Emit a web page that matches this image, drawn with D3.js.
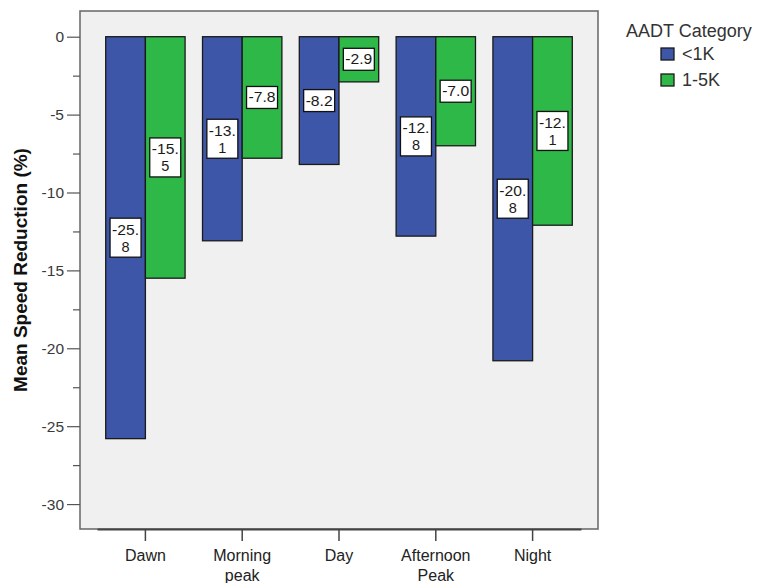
<!DOCTYPE html>
<html>
<head>
<meta charset="utf-8">
<script src="https://cdn.jsdelivr.net/npm/d3@7"></script>
<style>
    body { margin: 0; background: #fff; }
    text { font-family: "Liberation Sans", Arial, sans-serif; }
</style>
</head>
<body>
<svg id="canvas" width="760" height="583"></svg>
<script>
// data
const periods = [['Dawn'], ['Morning', 'peak'], ['Day'], ['Afternoon', 'Peak'], ['Night']];
const series = ['<1K', '1-5K'];
const lowAADT = [-25.8, -13.1, -8.2, -12.8, -20.8];
const midAADT = [-15.5, -7.8, -2.9, -7.0, -12.1];
const yTicks = [0, -5, -10, -15, -20, -25, -30];
const colors = ['#3d56a8', '#2eb848'];

const svg = d3.select('#canvas');

const frame = {left: 80, top: 11, right: 598, bottom: 529};

const y = d3.scaleLinear()
    .domain([1.65, -31.6])
    .range([frame.top, frame.bottom]);

const x = d3.scaleBand()
    .domain(d3.range(periods.length))
    .range([97, 581])
    .paddingInner(0.18)
    .paddingOuter(0.09);

const xs = d3.scaleBand()
    .domain(d3.range(series.length))
    .range([0, x.bandwidth()]);

// plot background
svg.append('rect')
    .attr('x', frame.left)
    .attr('y', frame.top)
    .attr('width', frame.right - frame.left)
    .attr('height', frame.bottom - frame.top)
    .attr('fill', '#f0f0f0')
    .attr('stroke', '#666')
    .attr('stroke-width', 1.5);

// bars
const rows = [];
periods.forEach((p, i) => {
    [lowAADT[i], midAADT[i]].forEach((v, j) => rows.push({i, j, v}));
});

const bars = svg.append('g');
bars.selectAll('rect')
    .data(rows)
    .enter().append('rect')
    .attr('x', d => x(d.i) + xs(d.j))
    .attr('y', y(0))
    .attr('width', xs.bandwidth())
    .attr('height', d => y(d.v) - y(0))
    .attr('fill', d => colors[d.j])
    .attr('stroke', '#1a1a1a')
    .attr('stroke-width', 1.3);

// value labels, wrapped like the original (4 chars per line)
function splitLabel(v) {
    let s = v.toFixed(1);
    if (s.length <= 4) return [s];
    return [s.slice(0, 4), s.slice(4)];
}

const lg = svg.append('g');
const labels = lg.selectAll('g')
    .data(rows)
    .enter().append('g')
    .attr('transform', d => 'translate(' + (x(d.i) + xs(d.j) + xs.bandwidth() / 2) + ',' + y(d.v / 2) + ')');

labels.append('rect')
    .attr('x', -15.5)
    .attr('y', d => splitLabel(d.v).length > 1 ? -19.5 : -11)
    .attr('width', 31)
    .attr('height', d => splitLabel(d.v).length > 1 ? 39 : 22)
    .attr('fill', '#fff')
    .attr('stroke', '#111')
    .attr('stroke-width', 1.3);

labels.each(function (d) {
    const lines = splitLabel(d.v);
    const g = d3.select(this);
    lines.forEach((t, k) => {
        g.append('text')
            .attr('x', 0)
            .attr('y', lines.length > 1 ? (k === 0 ? -8 : 9) : 0)
            .attr('text-anchor', 'middle')
            .attr('dominant-baseline', 'central')
            .attr('font-size', 14.5)
            .attr('textLength', t.length > 2 ? 27 : null)
            .attr('lengthAdjust', 'spacingAndGlyphs')
            .attr('fill', '#1a1a1a')
            .text(t);
    });
});

// y axis
const yAxis = svg.append('g')
    .attr('transform', 'translate(' + frame.left + ',0)')
    .call(d3.axisLeft(y).tickValues(yTicks).tickSize(13).tickPadding(3).tickFormat(d => String(d)));
yAxis.select('.domain').remove();
yAxis.selectAll('line').attr('stroke', '#555').attr('stroke-width', 1.2);
yAxis.selectAll('text')
    .attr('font-size', 15.5)
    .attr('fill', '#3a3a3a')
    .attr('font-family', '"Liberation Sans", Arial, sans-serif');

const minor = svg.append('g')
    .attr('transform', 'translate(' + frame.left + ',0)')
    .call(d3.axisLeft(y).tickValues(d3.range(-2.5, -31, -5)).tickSize(7).tickFormat(''));
minor.select('.domain').remove();
minor.selectAll('line').attr('stroke', '#555').attr('stroke-width', 1.2);

// x axis
const xAxis = svg.append('g')
    .attr('transform', 'translate(0,' + frame.bottom + ')')
    .call(d3.axisBottom(x).tickSize(12).tickSizeOuter(0).tickFormat(''));
xAxis.select('.domain').attr('stroke', '#444').attr('stroke-width', 2);
xAxis.selectAll('line').attr('stroke', '#444').attr('stroke-width', 1.5);
xAxis.selectAll('.tick').each(function (d) {
    const t = d3.select(this);
    periods[d].forEach((w, k) => {
        t.append('text')
            .attr('x', 0)
            .attr('y', 26 + k * 20)
            .attr('text-anchor', 'middle')
            .attr('dominant-baseline', 'central')
            .attr('font-size', 16)
            .attr('fill', '#222')
            .text(w);
    });
});

// y title
svg.append('text')
    .attr('transform', 'translate(20,' + ((frame.top + frame.bottom) / 2) + ') rotate(-90)')
    .attr('text-anchor', 'middle')
    .attr('dominant-baseline', 'central')
    .attr('font-size', 19)
    .attr('font-weight', 'bold')
    .attr('fill', '#111')
    .text('Mean Speed Reduction (%)');

// legend
const legend = svg.append('g');
legend.append('text')
    .attr('x', 626)
    .attr('y', 31)
    .attr('dominant-baseline', 'central')
    .attr('font-size', 18)
    .attr('fill', '#333')
    .text('AADT Category');

const items = legend.selectAll('g')
    .data(series)
    .enter().append('g')
    .attr('transform', (d, i) => 'translate(661,' + (48 + i * 26) + ')');
items.append('rect')
    .attr('width', 13)
    .attr('height', 12)
    .attr('fill', (d, i) => colors[i])
    .attr('stroke', '#1a1a1a')
    .attr('stroke-width', 1.3);
items.append('text')
    .attr('x', 21)
    .attr('y', 6)
    .attr('dominant-baseline', 'central')
    .attr('font-size', 18)
    .attr('fill', '#333')
    .text(d => d);
</script>
</body>
</html>
